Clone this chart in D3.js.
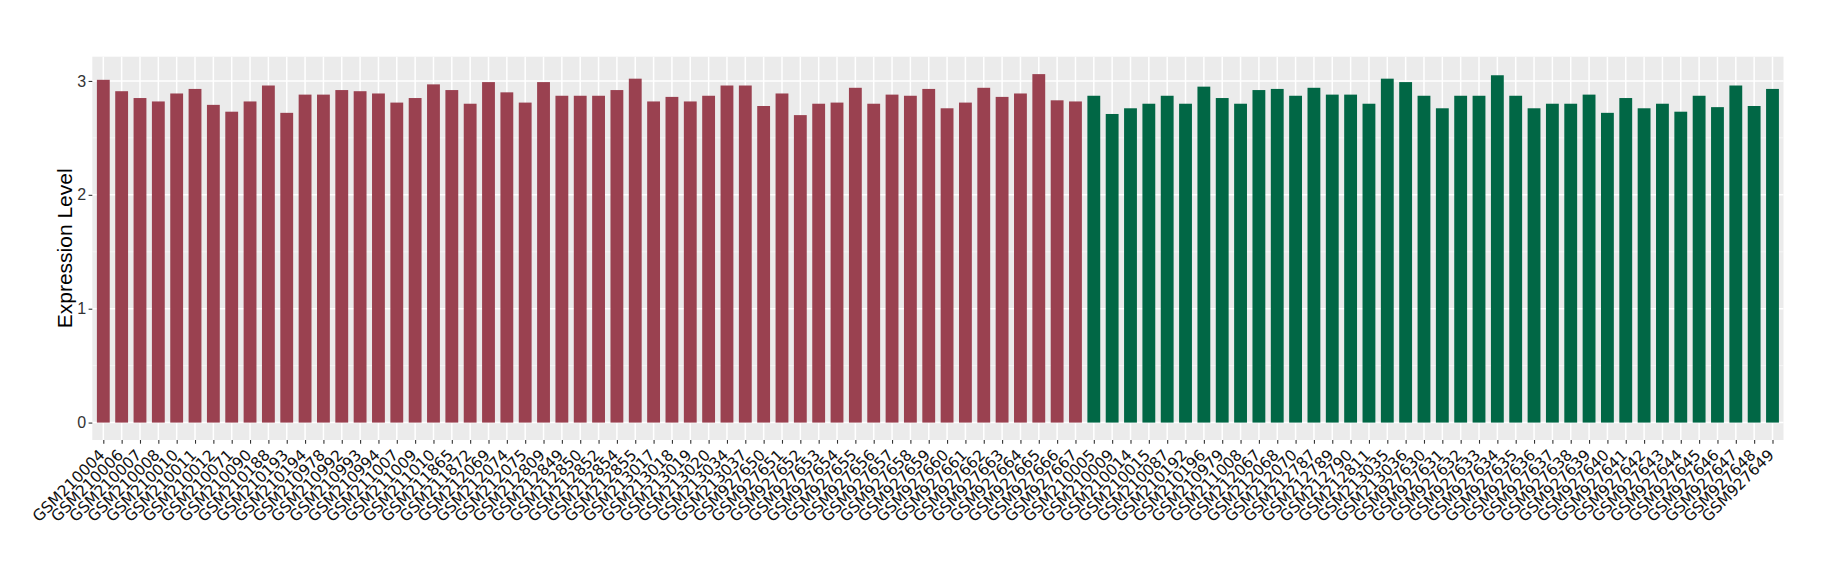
<!DOCTYPE html>
<html>
<head>
<meta charset="utf-8">
<script src="https://cdn.jsdelivr.net/npm/d3@7"></script>
<style>
  html, body { margin: 0; padding: 0; background: #ffffff; }
  svg { display: block; }
</style>
</head>
<body>
<svg id="chart" width="1840" height="580"></svg>
<script>
// ---- Data ----
const groupA = [
  "GSM210004","GSM210006","GSM210007","GSM210008","GSM210010","GSM210011","GSM210012","GSM210071",
  "GSM210090","GSM210188","GSM210193","GSM210194","GSM210978","GSM210992","GSM210993","GSM210994",
  "GSM211007","GSM211009","GSM211010","GSM211865","GSM211872","GSM212069","GSM212074","GSM212075",
  "GSM212809","GSM212849","GSM212850","GSM212852","GSM212854","GSM212855","GSM213017","GSM213018",
  "GSM213019","GSM213020","GSM213034","GSM213037","GSM927650","GSM927651","GSM927652","GSM927653",
  "GSM927654","GSM927655","GSM927656","GSM927657","GSM927658","GSM927659","GSM927660","GSM927661",
  "GSM927662","GSM927663","GSM927664","GSM927665","GSM927666","GSM927667"
];
const valuesA = [
  3.01, 2.91, 2.85, 2.82, 2.89, 2.93, 2.79, 2.73,
  2.82, 2.96, 2.72, 2.88, 2.88, 2.92, 2.91, 2.89,
  2.81, 2.85, 2.97, 2.92, 2.80, 2.99, 2.90, 2.81,
  2.99, 2.87, 2.87, 2.87, 2.92, 3.02, 2.82, 2.86,
  2.82, 2.87, 2.96, 2.96, 2.78, 2.89, 2.70, 2.80,
  2.81, 2.94, 2.80, 2.88, 2.87, 2.93, 2.76, 2.81,
  2.94, 2.86, 2.89, 3.06, 2.83, 2.82
];
const groupB = [
  "GSM210005","GSM210009","GSM210014","GSM210015","GSM210087","GSM210192","GSM210196","GSM210979",
  "GSM211008","GSM212067","GSM212068","GSM212070","GSM212787","GSM212789","GSM212790","GSM212811",
  "GSM213035","GSM213036","GSM927630","GSM927631","GSM927632","GSM927633","GSM927634","GSM927635",
  "GSM927636","GSM927637","GSM927638","GSM927639","GSM927640","GSM927641","GSM927642","GSM927643",
  "GSM927644","GSM927645","GSM927646","GSM927647","GSM927648","GSM927649"
];
const valuesB = [
  2.87, 2.71, 2.76, 2.80, 2.87, 2.80, 2.95, 2.85,
  2.80, 2.92, 2.93, 2.87, 2.94, 2.88, 2.88, 2.80,
  3.02, 2.99, 2.87, 2.76, 2.87, 2.87, 3.05, 2.87,
  2.76, 2.80, 2.80, 2.88, 2.72, 2.85, 2.76, 2.80,
  2.73, 2.87, 2.77, 2.96, 2.78, 2.93
];
const yTicks = [0, 1, 2, 3];
const yTitle = "Expression Level";
const colorA = "#9A4150";
const colorB = "#016745";

// ---- Build table ----
const data = groupA.map((s, i) => ({ sample: s, value: valuesA[i], group: "A" }))
  .concat(groupB.map((s, i) => ({ sample: s, value: valuesB[i], group: "B" })));

// ---- Layout ----
const panel = { left: 92.3, right: 1783.5, top: 56.7, bottom: 440 };
const svg = d3.select("#chart");

const x = d3.scalePoint()
  .domain(data.map(d => d.sample))
  .range([panel.left, panel.right])
  .padding(0.6);
const step = x.step();
const barW = step * 0.7;

const vmax = d3.max(data, d => d.value);
const ex = vmax * 0.05;
const y = d3.scaleLinear()
  .domain([0 - ex, vmax + ex])
  .range([panel.bottom, panel.top]);

// panel background
svg.append("rect")
  .attr("x", panel.left).attr("y", panel.top)
  .attr("width", panel.right - panel.left)
  .attr("height", panel.bottom - panel.top)
  .attr("fill", "#EBEBEB");

const grid = svg.append("g");
// minor horizontal grid
const minor = d3.range(0.5, vmax + ex, 1).filter(v => v < vmax + ex);
grid.selectAll("line.minor").data(minor).join("line")
  .attr("x1", panel.left).attr("x2", panel.right)
  .attr("y1", d => y(d)).attr("y2", d => y(d))
  .attr("stroke", "#F7F7F7").attr("stroke-width", 0.8);
// major horizontal grid
grid.selectAll("line.majorY").data(yTicks).join("line")
  .attr("x1", panel.left).attr("x2", panel.right)
  .attr("y1", d => y(d)).attr("y2", d => y(d))
  .attr("stroke", "#FFFFFF").attr("stroke-width", 1.5);
// major vertical grid
grid.selectAll("line.majorX").data(data).join("line")
  .attr("x1", d => x(d.sample)).attr("x2", d => x(d.sample))
  .attr("y1", panel.top).attr("y2", panel.bottom)
  .attr("stroke", "#FFFFFF").attr("stroke-width", 1.5);

// bars
svg.append("g").selectAll("rect").data(data).join("rect")
  .attr("x", d => x(d.sample) - barW / 2)
  .attr("width", barW)
  .attr("y", d => y(d.value))
  .attr("height", d => y(0) - y(d.value))
  .attr("fill", d => d.group === "A" ? colorA : colorB);

// y axis
const yAxis = d3.axisLeft(y).tickValues(yTicks).tickSize(3.7).tickPadding(2.5).tickFormat(d3.format("d"));
const gy = svg.append("g").attr("transform", `translate(${panel.left},0)`).call(yAxis);
gy.select(".domain").remove();
gy.selectAll(".tick line").attr("stroke", "#333333").attr("stroke-width", 1.1);
gy.selectAll(".tick text")
  .attr("fill", "#333333")
  .style("font-family", "'Liberation Sans', Arial, sans-serif")
  .style("font-size", "16px");

// x axis
const xAxis = d3.axisBottom(x).tickSize(3.7).tickPadding(2);
const gx = svg.append("g").attr("transform", `translate(0,${panel.bottom})`).call(xAxis);
gx.select(".domain").remove();
gx.selectAll(".tick line").attr("stroke", "#333333").attr("stroke-width", 1.1);
gx.selectAll(".tick text")
  .attr("fill", "#111111")
  .style("font-family", "'DejaVu Sans', sans-serif")
  .style("font-size", "15.5px")
  .attr("text-anchor", "end")
  .attr("dy", null)
  .attr("x", 0)
  .attr("y", 0)
  .attr("transform", "translate(2,16) rotate(-45)");

// y title
svg.append("text")
  .attr("transform", `translate(64,${(panel.top + panel.bottom) / 2}) rotate(-90)`)
  .attr("text-anchor", "middle")
  .attr("dominant-baseline", "central")
  .style("font-family", "'Liberation Sans', Arial, sans-serif")
  .style("font-size", "21px")
  .attr("fill", "#000000")
  .text(yTitle);
</script>
</body>
</html>
